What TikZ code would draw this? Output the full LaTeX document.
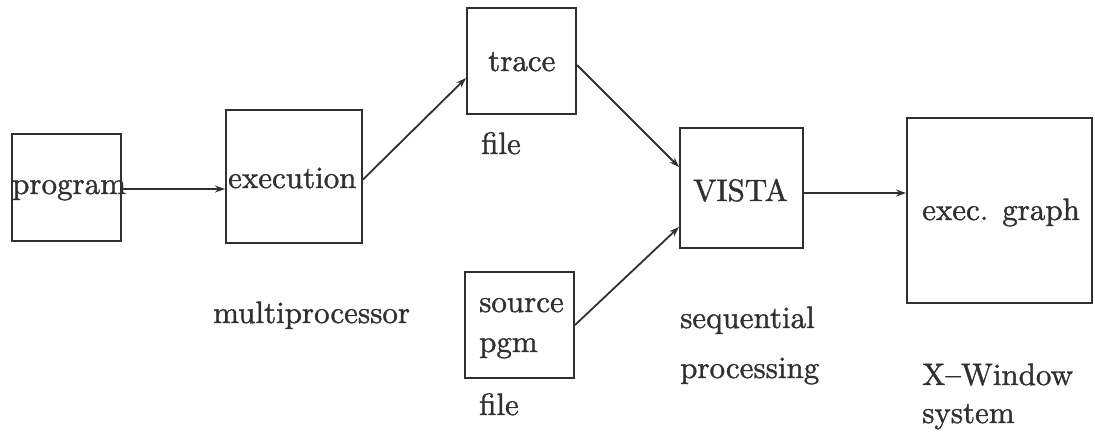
\documentclass[tikz,border=0pt]{standalone}
\usepackage{fontspec}
\usetikzlibrary{arrows.meta}
\newfontfamily\tenrm[Extension=.otf,Ligatures=TeX,FakeBold=1.2]{lmroman10-regular}
\definecolor{ink}{HTML}{303030}
\begin{document}
\begin{tikzpicture}[x=1pt,y=-1pt,
  box/.style={draw=ink,line width=2pt,inner sep=0pt,minimum width=#1},
  lbl/.style={anchor=base west,inner sep=0pt,text=ink,font=\tenrm\fontsize{31}{36}\selectfont},
  link/.style={draw=ink,line width=1.8pt,-{Stealth[length=10pt,width=7pt]}}]
\useasboundingbox (0,0) rectangle (1095,434);
% boxes (centre, width, height)
\node[box=109pt,minimum height=107pt] (prog)  at (66.5,187.5) {};
\node[box=136pt,minimum height=133pt] (exec)  at (294,176.5) {};
\node[box=109pt,minimum height=106pt] (trace) at (521.5,61) {};
\node[box=109pt,minimum height=106pt] (src)   at (519.5,325) {};
\node[box=123pt,minimum height=120pt] (vista) at (741.5,188) {};
\node[box=185pt,minimum height=185pt] (graph) at (999.5,210.5) {};
% texts
\node[lbl] (tprog)  at (12,194)  {program};
\node[lbl] (texec)  at (228,188) {execution};
\node[lbl] (ttrace) at (488,71)  {trace};
\node[lbl] (tfile1) at (481,154) {file};
\node[lbl] (tsrc)   at (479,312) {source};
\node[lbl] (tpgm)   at (479,352) {pgm};
\node[lbl] (tfile2) at (479,415) {file};
\node[lbl] (tvista) at (693,201) {VISTA};
\node[lbl] (tgraph) at (922,220) {exec. graph};
\node[lbl] (tmulti) at (213,323) {multiprocessor};
\node[lbl] (tseq)   at (680,328) {sequential};
\node[lbl] (tproc)  at (680,378) {processing};
\node[lbl] (txw)    at (922,385) {X--Window};
\node[lbl] (tsys)   at (922,423) {system};
% connectors
\draw[link] ([yshift=-1.5pt]prog.east) -- ([yshift=-1.5pt]prog.east -| exec.west);
\draw[link] ([yshift=-3pt]exec.east) -- ([yshift=-17pt]trace.west);
\draw[link] ([yshift=-4pt]trace.east) -- ([yshift=21pt]vista.west);
\draw[link] (src.east) -- ([yshift=-39pt]vista.west);
\draw[link] ([yshift=-5pt]vista.east) -- ([yshift=-5pt]vista.east -| graph.west);
\end{tikzpicture}
\end{document}
